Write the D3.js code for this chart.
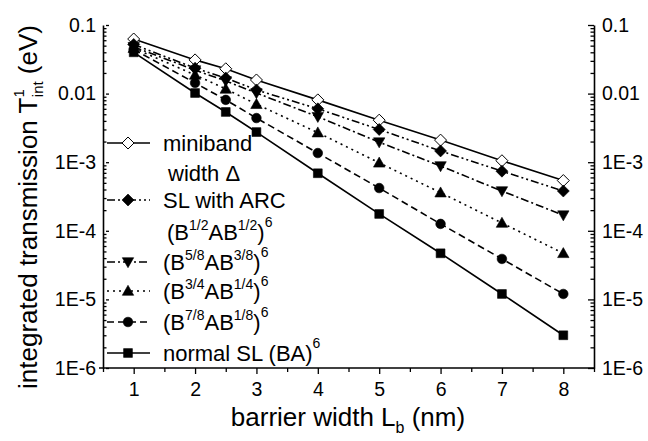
<!DOCTYPE html>
<html><head><meta charset="utf-8">
<script src="https://cdn.jsdelivr.net/npm/d3@7"></script>
<style>body{margin:0;background:#fff}svg{display:block;font-family:"Liberation Sans",Arial,sans-serif}</style>
</head><body><svg id="c" width="648" height="441"></svg>
<script>
const barrierWidths = [1, 2, 2.5, 3, 4, 5, 6, 7, 8];
const miniband   = [0.0625, 0.031, 0.023, 0.0158, 0.0081, 0.0041, 0.0021, 0.00105, 0.00054];
const slARC      = [0.052, 0.0235, 0.0169, 0.0113, 0.0060, 0.0030, 0.00146, 0.00074, 0.00038];
const b58        = [0.048, 0.022, 0.0153, 0.0102, 0.0046, 0.00196, 0.00088, 0.00038, 0.000169];
const b34        = [0.046, 0.0187, 0.0117, 0.0070, 0.0027, 0.00098, 0.00036, 0.000130, 0.000047];
const b78        = [0.044, 0.0143, 0.0081, 0.0044, 0.00136, 0.00042, 0.000126, 0.0000389, 0.0000120];
const normalSL   = [0.040, 0.0102, 0.0054, 0.00275, 0.00069, 0.000176, 0.000047, 0.000012, 0.0000030];
const xTicks = [1, 2, 3, 4, 5, 6, 7, 8];
const yTicks = [0.1, 0.01, 1e-3, 1e-4, 1e-5, 1e-6];
const yTickLabels = ["0.1", "0.01", "1E-3", "1E-4", "1E-5", "1E-6"];

const series = [
  {values: miniband, marker: "diamondOpen", dash: null},
  {values: slARC, marker: "diamond", dash: "8,3,2,3,2,3"},
  {values: b58, marker: "triDown", dash: "8,3,2,3"},
  {values: b34, marker: "triUp", dash: "2,4"},
  {values: b78, marker: "circle", dash: "7,4"},
  {values: normalSL, marker: "square", dash: null}
];

const svg = d3.select("#c");
const L = 103, R = 594, T = 25, B = 368;
const x = d3.scaleLinear().domain([0.5, 8.5]).range([L, R]);
const y = d3.scaleLog().domain([1e-6, 0.1]).range([B, T]);

function markerPath(type){
  const p = d3.path();
  if (type === "diamond" || type === "diamondOpen"){ const r=6; p.moveTo(0,-r);p.lineTo(r,0);p.lineTo(0,r);p.lineTo(-r,0);p.closePath(); }
  else if (type === "square"){ const s=4.4; p.rect(-s,-s,2*s,2*s); }
  else if (type === "circle"){ p.arc(0,0,4.8,0,2*Math.PI); }
  else if (type === "triUp"){ p.moveTo(0,-5.7);p.lineTo(5.7,4.3);p.lineTo(-5.7,4.3);p.closePath(); }
  else if (type === "triDown"){ p.moveTo(0,5.7);p.lineTo(5.7,-4.3);p.lineTo(-5.7,-4.3);p.closePath(); }
  return p.toString();
}
function drawMarker(g, type, cx, cy){
  g.append("path").attr("d", markerPath(type)).attr("transform", `translate(${cx},${cy})`)
    .attr("fill", type === "diamondOpen" ? "#fff" : "#000")
    .attr("stroke", "#000").attr("stroke-width", type === "diamondOpen" ? 1 : 0.6);
}

// minor ticks
const minorY = [];
for (let e = -6; e <= -2; e++) for (let m = 2; m <= 9; m++) minorY.push(m * Math.pow(10, e));
const minorX = [0.5,1.5,2.5,3.5,4.5,5.5,6.5,7.5,8.5];

// Left axis
const gl = svg.append("g").attr("transform", `translate(${L},0)`)
  .call(d3.axisLeft(y).tickValues(yTicks).tickFormat((d,i)=>yTickLabels[i]).tickSizeInner(-6).tickSizeOuter(0).tickPadding(7));
gl.selectAll(".tick line").attr("x1", 3);
svg.append("g").attr("transform", `translate(${L},0)`)
  .call(d3.axisLeft(y).tickValues(minorY).tickFormat("").tickSizeInner(-3.5).tickSizeOuter(0)).select(".domain").remove();
// Right axis
const gr = svg.append("g").attr("transform", `translate(${R},0)`)
  .call(d3.axisRight(y).tickValues(yTicks).tickFormat((d,i)=>yTickLabels[i]).tickSizeInner(-6).tickSizeOuter(0).tickPadding(8));
gr.selectAll(".tick line").attr("x1", -6).attr("x2", 0);
svg.append("g").attr("transform", `translate(${R},0)`)
  .call(d3.axisRight(y).tickValues(minorY).tickFormat("").tickSizeInner(-3.5).tickSizeOuter(0)).select(".domain").remove();
// Bottom axis
const gb = svg.append("g").attr("transform", `translate(0,${B})`)
  .call(d3.axisBottom(x).tickValues(xTicks).tickFormat(d3.format("d")).tickSizeInner(6).tickSizeOuter(0).tickPadding(8));
svg.append("g").attr("transform", `translate(0,${B})`)
  .call(d3.axisBottom(x).tickValues(minorX).tickFormat("").tickSizeInner(4).tickSizeOuter(0)).select(".domain").remove();
gb.select(".domain").attr("d", `M${L-4},0H${R}`);

svg.selectAll(".domain").attr("stroke", "#000").attr("stroke-width", 1.6);
svg.selectAll(".tick line").attr("stroke", "#000").attr("stroke-width", 1.3);
svg.selectAll(".tick text").attr("font-size", 19.5).attr("fill", "#000").attr("font-family", '"Liberation Sans",Arial,sans-serif');

// Series
const line = d3.line().x(d=>x(d[0])).y(d=>y(d[1]));
series.forEach(s => {
  const pts = barrierWidths.map((b,i)=>[b, s.values[i]]);
  svg.append("path").datum(pts).attr("d", line).attr("fill","none").attr("stroke","#000")
    .attr("stroke-width", 1.6).attr("stroke-dasharray", s.dash);
});
series.forEach(s => {
  const g = svg.append("g");
  barrierWidths.forEach((b,i)=> drawMarker(g, s.marker, x(b), y(s.values[i])));
});

// Legend
const lg = svg.append("g").attr("font-size", 22).attr("fill", "#000");
const legendRows = [
  {s: 0, yy: 143}, {s: 1, yy: 200}, {s: 2, yy: 262}, {s: 3, yy: 291}, {s: 4, yy: 322}, {s: 5, yy: 353}
];
legendRows.forEach(r => {
  const s = series[r.s];
  lg.append("line").attr("x1", 107).attr("x2", 150).attr("y1", r.yy).attr("y2", r.yy)
    .attr("stroke","#000").attr("stroke-width",1.6).attr("stroke-dasharray", s.dash);
  drawMarker(lg, s.marker, 128, r.yy);
});
// parts: string = normal text, {t, up} = small text raised by `up` px
function richText(parent, xp, yp, parts, small){
  const t = parent.append("text").attr("x", xp).attr("y", yp);
  let cur = 0;
  parts.forEach(p => {
    const shift = typeof p === "string" ? 0 : -p.up;
    const ts = t.append("tspan").attr("dy", shift - cur).text(typeof p === "string" ? p : p.t);
    if (typeof p !== "string") ts.attr("font-size", small);
    cur = shift;
  });
  return t;
}
const sup = (s, up) => ({t: s, up: up});
richText(lg, 163, 151, ["miniband"], 14);
richText(lg, 168, 181, ["width \u0394"], 14);
richText(lg, 163, 208, ["SL with ARC"], 14);
richText(lg, 167, 240, ["(B", sup("1/2",10), "AB", sup("1/2",10), ")", sup("6",13)], 14);
richText(lg, 163, 270, ["(B", sup("5/8",10), "AB", sup("3/8",10), ")", sup("6",13)], 14);
richText(lg, 163, 299, ["(B", sup("3/4",10), "AB", sup("1/4",10), ")", sup("6",13)], 14);
richText(lg, 163, 330, ["(B", sup("7/8",10), "AB", sup("1/8",10), ")", sup("6",13)], 14);
richText(lg, 163, 361, ["normal SL (BA)", sup("6",13)], 14);

// Axis titles
const xt = svg.append("text").attr("x", 348).attr("y", 426).attr("text-anchor","middle").attr("font-size", 26).attr("fill","#000");
xt.append("tspan").text("barrier width L");
xt.append("tspan").attr("font-size", 16).attr("dy", 7).text("b");
xt.append("tspan").attr("dy", -7).text(" (nm)");

const yt = svg.append("text").attr("transform", "translate(37,207) rotate(-90)").attr("text-anchor","middle").attr("font-size", 26).attr("fill","#000");
yt.append("tspan").text("integrated transmission T");
yt.append("tspan").attr("font-size", 15).attr("dy", -13).text("1");
yt.append("tspan").attr("font-size", 15).attr("dy", 19).attr("dx", -8).text("int");
yt.append("tspan").attr("dy", -6).text(" (eV)");
</script></body></html>
